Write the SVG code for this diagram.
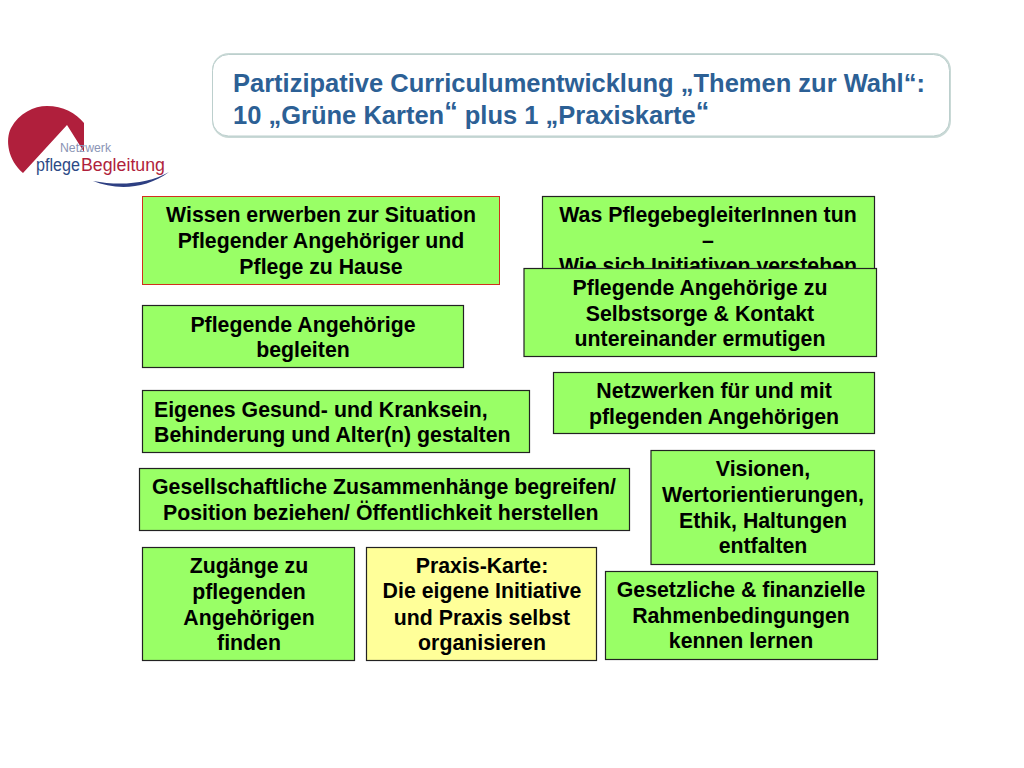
<svg xmlns="http://www.w3.org/2000/svg" width="1024" height="768" viewBox="0 0 1024 768">
<style>
text{font-family:"Liberation Sans",Arial,sans-serif}
.g{fill:#99ff66;stroke:#222;stroke-width:1.2}
.y{fill:#ffff99;stroke:#222;stroke-width:1.2}
.t{font-size:21.300px;font-weight:700;fill:#000;text-anchor:middle}
.l{font-size:21.300px;font-weight:700;fill:#000}
.h{font-size:25.500px;font-weight:700;fill:#2c6095}
</style>
<rect width="1024" height="768" fill="#fff"/>
<g id="title">
<rect x="212" y="53" width="739" height="85" rx="17" fill="#c9d9d6"/>
<rect x="212.500" y="54.500" width="737" height="81.500" rx="16" fill="#fff" stroke="#bccfcd" stroke-width="1"/>
<text class="h" x="233" y="92">Partizipative Curriculumentwicklung „Themen zur Wahl“:</text>
<text class="h" x="233" y="123.500">10 „Grüne Karten<tspan font-size="27" dy="-3">“</tspan><tspan dy="3"> plus 1 „Praxiskarte</tspan><tspan font-size="27" dy="-3">“</tspan></text>
</g>
<g id="logo">
<path d="M23,173C8,160 5,140 11,128C19,113 34,106 47,106C63,106 76,113 84,123L84,152L67,125Z" fill="#b01f3c"/>
<path d="M93,181C115,190 145,190 169,172C148,184 120,186 93,181Z" fill="#2d3f82"/>
<text x="60" y="152" font-size="13.500" fill="#8a94b5" textLength="51" lengthAdjust="spacingAndGlyphs">Netzwerk</text>
<text x="36" y="171" font-size="18" fill="#2d4a86" textLength="44" lengthAdjust="spacingAndGlyphs">pflege</text>
<text x="81" y="171" font-size="18" fill="#b01f3c" textLength="84" lengthAdjust="spacingAndGlyphs">Begleitung</text>
</g>
<g id="n1">
<rect x="142.500" y="196.500" width="357" height="88" fill="#99ff66" stroke="#d0301e" stroke-width="1"/>
<text class="t" x="321" y="222">Wissen erwerben zur Situation</text>
<text class="t" x="321" y="247.500">Pflegender Angehöriger und</text>
<text class="t" x="321" y="273.500">Pflege zu Hause</text>
</g>
<g id="n2">
<rect class="g" x="542.500" y="196.500" width="332" height="90"/>
<text class="t" x="708" y="222">Was PflegebegleiterInnen tun</text>
<text class="t" x="708" y="248">–</text>
<text class="t" x="708" y="272.500">Wie sich Initiativen verstehen</text>
</g>
<g id="n3">
<rect class="g" x="524" y="268.500" width="352.500" height="88"/>
<text class="t" x="700" y="294.500">Pflegende Angehörige zu</text>
<text class="t" x="700" y="320.500">Selbstsorge &amp; Kontakt</text>
<text class="t" x="700" y="346">untereinander ermutigen</text>
</g>
<g id="n4">
<rect class="g" x="142.500" y="305.500" width="321" height="62"/>
<text class="t" x="303" y="331.500">Pflegende Angehörige</text>
<text class="t" x="303" y="357">begleiten</text>
</g>
<g id="n5">
<rect class="g" x="553.500" y="372.500" width="321" height="61"/>
<text class="t" x="714" y="397.500">Netzwerken für und mit</text>
<text class="t" x="714" y="424">pflegenden Angehörigen</text>
</g>
<g id="n6">
<rect class="g" x="142.500" y="390.500" width="387" height="62"/>
<text class="l" x="154" y="416.500">Eigenes Gesund- und Kranksein,</text>
<text class="l" x="154" y="442">Behinderung und Alter(n) gestalten</text>
</g>
<g id="n7">
<rect class="g" x="139.500" y="468.500" width="490" height="62"/>
<text class="l" x="152" y="494">Gesellschaftliche Zusammenhänge begreifen/</text>
<text class="l" x="163" y="520">Position beziehen/ Öffentlichkeit herstellen</text>
</g>
<g id="n8">
<rect class="g" x="651" y="450.500" width="223.500" height="114"/>
<text class="t" x="763" y="476">Visionen,</text>
<text class="t" x="763" y="502">Wertorientierungen,</text>
<text class="t" x="763" y="527.500">Ethik, Haltungen</text>
<text class="t" x="763" y="553">entfalten</text>
</g>
<g id="n9">
<rect class="g" x="142.500" y="547.500" width="212" height="113"/>
<text class="t" x="249" y="573">Zugänge zu</text>
<text class="t" x="249" y="598.500">pflegenden</text>
<text class="t" x="249" y="624.500">Angehörigen</text>
<text class="t" x="249" y="650">finden</text>
</g>
<g id="n10">
<rect class="y" x="366.500" y="547.500" width="230" height="113"/>
<text class="t" x="482" y="572.500">Praxis-Karte:</text>
<text class="t" x="482" y="598">Die eigene Initiative</text>
<text class="t" x="482" y="624.500">und Praxis selbst</text>
<text class="t" x="482" y="650">organisieren</text>
</g>
<g id="n11">
<rect class="g" x="605.500" y="571.500" width="272" height="88"/>
<text class="t" x="741" y="597">Gesetzliche &amp; finanzielle</text>
<text class="t" x="741" y="622.500">Rahmenbedingungen</text>
<text class="t" x="741" y="648">kennen lernen</text>
</g>
<g id="connectors"/>
</svg>
